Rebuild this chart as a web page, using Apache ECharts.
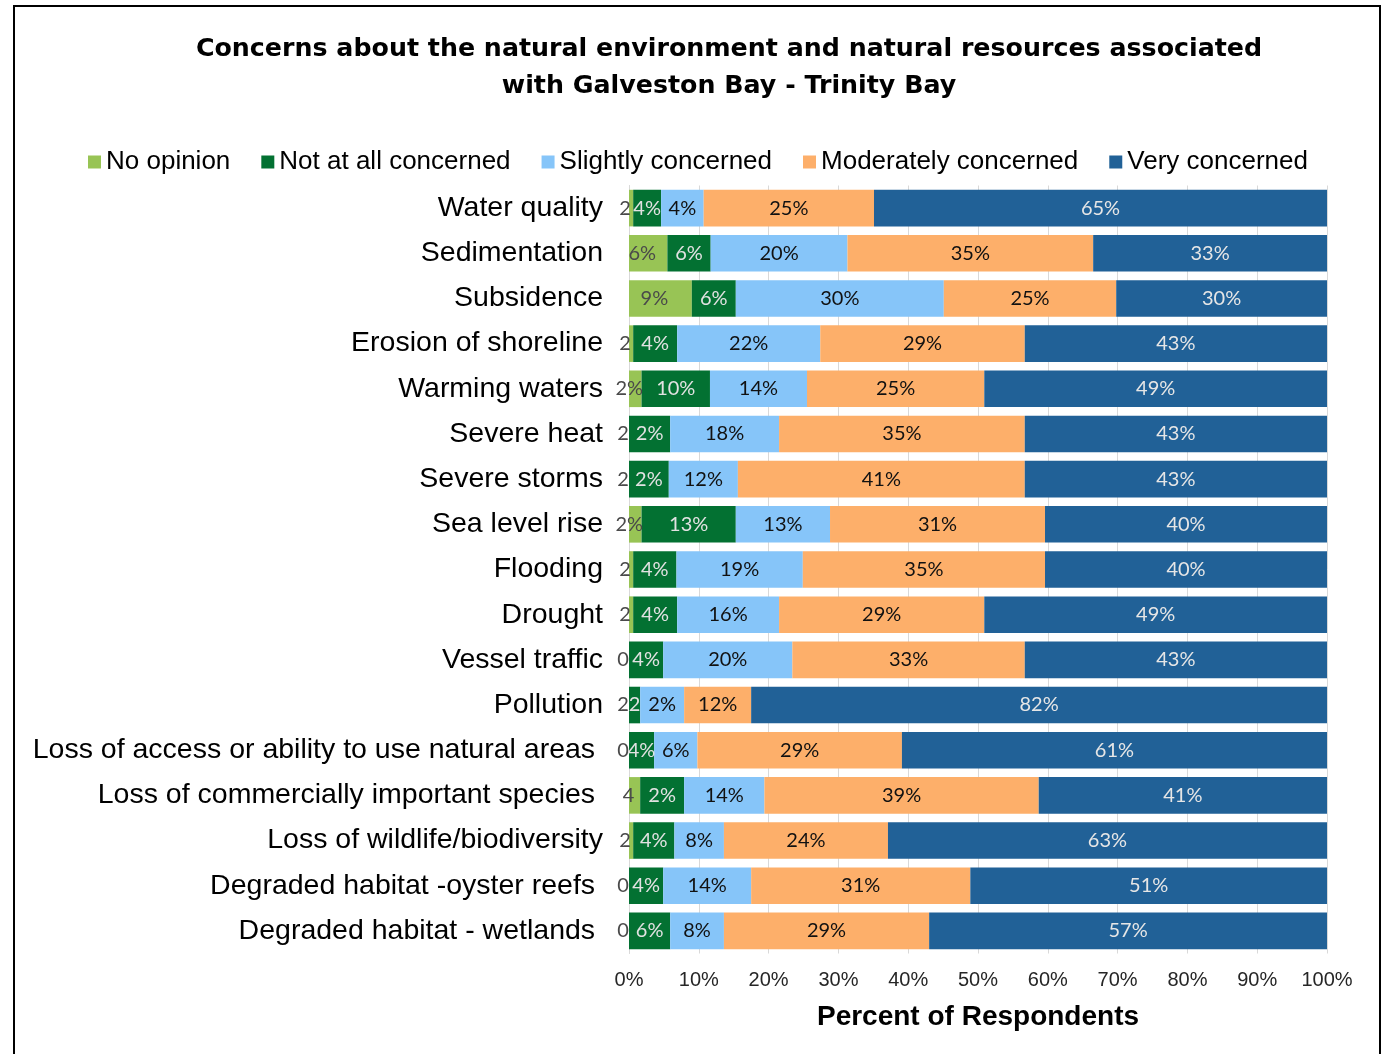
<!DOCTYPE html>
<html>
<head>
<meta charset="utf-8">
<script src="https://cdn.jsdelivr.net/npm/echarts@6/dist/echarts.min.js"></script>
<style>
html,body{margin:0;padding:0;background:#fff;}
#chart{width:1385px;height:1054px;}
</style>
</head>
<body>
<div id="chart"></div>
<script>
// Categories (top to bottom)
const categories = [
  "Water quality", "Sedimentation", "Subsidence", "Erosion of shoreline",
  "Warming waters", "Severe heat", "Severe storms", "Sea level rise",
  "Flooding", "Drought", "Vessel traffic", "Pollution",
  "Loss of access or ability to use natural areas ",
  "Loss of commercially important species ",
  "Loss of wildlife/biodiversity",
  "Degraded habitat -oyster reefs ",
  "Degraded habitat - wetlands "
];
const seriesNames = ["No opinion", "Not at all concerned", "Slightly concerned", "Moderately concerned", "Very concerned"];

// Bar lengths (% of respondents) as drawn
const noOpinion   = [0.6, 5.5, 9.0, 0.6, 1.8, 0, 0, 1.8, 0.6, 0.6, 0, 0, 0, 1.6, 0.6, 0, 0];
const notAtAll    = [4.0, 6.2, 6.3, 6.3, 9.8, 5.9, 5.7, 13.5, 6.2, 6.3, 4.9, 1.6, 3.6, 6.3, 5.9, 4.9, 5.9];
const slightly    = [6.1, 19.6, 29.8, 20.5, 13.9, 15.6, 9.9, 13.5, 18.1, 14.6, 18.5, 6.3, 6.2, 11.5, 7.1, 12.6, 7.7];
const moderately  = [24.4, 35.2, 24.7, 29.3, 25.4, 35.2, 41.1, 30.8, 34.7, 29.4, 33.3, 9.6, 29.3, 39.3, 23.5, 31.4, 29.4];
const very        = [64.9, 33.5, 30.2, 43.3, 49.1, 43.3, 43.3, 40.4, 40.4, 49.1, 43.3, 82.5, 60.9, 41.3, 62.9, 51.1, 57.0];

// Data label texts as printed on the chart
const noOpinionLbl  = ["2", "6%", "9%", "2", "2%", "2", "2", "2%", "2", "2", "0", "2", "0", "4", "2", "0", "0"];
const notAtAllLbl   = ["4%", "6%", "6%", "4%", "10%", "2%", "2%", "13%", "4%", "4%", "4%", "2", "4%", "2%", "4%", "4%", "6%"];
const slightlyLbl   = ["4%", "20%", "30%", "22%", "14%", "18%", "12%", "13%", "19%", "16%", "20%", "2%", "6%", "14%", "8%", "14%", "8%"];
const moderatelyLbl = ["25%", "35%", "25%", "29%", "25%", "35%", "41%", "31%", "35%", "29%", "33%", "12%", "29%", "39%", "24%", "31%", "29%"];
const veryLbl       = ["65%", "33%", "30%", "43%", "49%", "43%", "43%", "40%", "40%", "49%", "43%", "82%", "61%", "41%", "63%", "51%", "57%"];

const xTicks = [0, 10, 20, 30, 40, 50, 60, 70, 80, 90, 100];

const colors = ["#98c455", "#037132", "#86c5f9", "#fdaf6a", "#216197"];
const labelColors = ["#4a4a4a", "#e2e2e2", "#111111", "#111111", "#e6e6e6"];
const labelOffsets = [[-6, 0], [0, 0], [0, 0], [0, 0], [0, 0]];

const values = [noOpinion, notAtAll, slightly, moderately, very];
const labels = [noOpinionLbl, notAtAllLbl, slightlyLbl, moderatelyLbl, veryLbl];

const chart = echarts.init(document.getElementById('chart'));

const series = seriesNames.map((name, si) => ({
  name: name,
  type: 'bar',
  stack: 'total',
  barCategoryGap: '19%',
  data: values[si],
  itemStyle: { color: colors[si] },
  label: {
    show: true,
    position: 'inside',
    offset: labelOffsets[si],
    fontFamily: 'Lato',
    fontSize: 20,
    color: labelColors[si],
    formatter: p => labels[si][p.dataIndex]
  },
  emphasis: { disabled: true }
}));

chart.setOption({
  animation: false,
  backgroundColor: '#ffffff',
  color: colors,
  graphic: [
    {
      type: 'rect',
      shape: { x: 14, y: 6, width: 1366, height: 1100 },
      style: { fill: 'none', stroke: '#000', lineWidth: 2 },
      silent: true
    },
    {
      type: 'text',
      x: 729, y: 49,
      style: {
        text: 'Concerns about the natural environment and natural resources associated',
        font: 'bold 25.3px "DejaVu Sans"',
        fill: '#000',
        textAlign: 'center',
        textVerticalAlign: 'middle'
      }
    },
    {
      type: 'text',
      x: 729, y: 86,
      style: {
        text: 'with Galveston Bay - Trinity Bay',
        font: 'bold 25.3px "DejaVu Sans"',
        fill: '#000',
        textAlign: 'center',
        textVerticalAlign: 'middle'
      }
    }
  ],
  legend: {
    left: 88,
    top: 149,
    padding: 0,
    itemWidth: 13,
    itemHeight: 13,
    itemGap: 31,
    icon: 'rect',
    textStyle: { fontFamily: 'Liberation Sans', fontSize: 26, color: '#000' },
    data: seriesNames
  },
  grid: {
    left: 629,
    right: 58,
    top: 185.5,
    bottom: 100.5,
    containLabel: false
  },
  xAxis: {
    type: 'value',
    min: 0,
    max: 100,
    interval: 10,
    axisLine: { show: false },
    axisTick: { show: false },
    splitLine: { show: true, lineStyle: { color: '#d9d9d9', width: 1 } },
    axisLabel: {
      fontFamily: 'Liberation Sans',
      fontSize: 20,
      color: '#262626',
      margin: 17,
      formatter: v => xTicks.indexOf(v) >= 0 ? v + '%' : ''
    },
    name: 'Percent of Respondents',
    nameLocation: 'middle',
    nameGap: 50,
    nameTextStyle: {
      fontFamily: 'Liberation Sans',
      fontWeight: 'bold',
      fontSize: 28,
      color: '#000'
    }
  },
  yAxis: {
    type: 'category',
    inverse: true,
    data: categories,
    axisLine: { show: true, lineStyle: { color: '#d9d9d9' } },
    axisTick: { show: false },
    axisLabel: {
      fontFamily: 'Liberation Sans',
      fontSize: 28.5,
      color: '#000',
      margin: 26,
      padding: [6, 0, 0, 0]
    }
  },
  series: series
});
</script>
</body>
</html>
